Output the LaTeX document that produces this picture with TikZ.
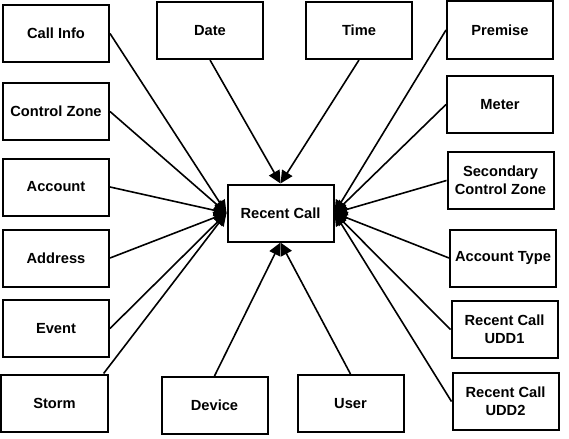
\documentclass[tikz,border=0pt]{standalone}
\usepackage{fontspec}
\setmainfont{Liberation Sans}
\usetikzlibrary{arrows.meta}

\tikzset{every picture/.style={line width=0.75pt}}
\tikzset{
  entity/.style={draw, line width=1.5pt, minimum width=79.5pt, minimum height=42.75pt,
    inner sep=1pt, align=center, font=\fontsize{11}{13.5}\selectfont\bfseries},
  link/.style={line width=1.2pt, -{Triangle[length=9.5pt,width=9pt]}}
}

\begin{document}
\begin{tikzpicture}[x=0.75pt,y=0.75pt,yscale=-1,xscale=1]
	\useasboundingbox (0,0) rectangle (569,439);

	%Shape: Rectangle [centre]
	\node[entity] (recentcall) at (280.5,213) {Recent Call};

	%Shape: Rectangle [left column]
	\node[entity] (callinfo) at (56,33.5) {Call Info};
	\node[entity] (controlzone) at (56,111.5) {Control Zone};
	\node[entity] (account) at (56,187) {Account};
	\node[entity] (address) at (56,258) {Address};
	\node[entity] (event) at (56,328.5) {Event};
	\node[entity] (storm) at (54.5,403) {Storm};

	%Shape: Rectangle [top and bottom]
	\node[entity] (date) at (210,30.5) {Date};
	\node[entity] (time) at (359,30.5) {Time};
	\node[entity] (device) at (214.5,405.5) {Device};
	\node[entity] (user) at (350.5,403.5) {User};

	%Shape: Rectangle [right column]
	\node[entity] (premise) at (500,30) {Premise};
	\node[entity] (meter) at (500,104.5) {Meter};
	\node[entity] (secondary) at (500.5,180.5) {Secondary\\Control Zone};
	\node[entity] (accounttype) at (503,258) {Account Type};
	\node[entity] (udd1) at (504.5,329.5) {Recent Call\\UDD1};
	\node[entity] (udd2) at (505.5,401.5) {Recent Call\\UDD2};

	%Straight Lines [left]
	\draw[link] (callinfo.east) -- (recentcall.west);
	\draw[link] (controlzone.east) -- (recentcall.west);
	\draw[link] (account.east) -- (recentcall.west);
	\draw[link] (address.east) -- (recentcall.west);
	\draw[link] (event.east) -- (recentcall.west);
	\draw[link] (storm.31) -- (recentcall.west);

	%Straight Lines [top and bottom]
	\draw[link] (date.south) -- (recentcall.north);
	\draw[link] (time.south) -- (recentcall.north);
	\draw[link] (device.north) -- (recentcall.south);
	\draw[link] (user.north) -- (recentcall.south);

	%Straight Lines [right]
	\draw[link] (premise.west) -- (recentcall.east);
	\draw[link] (meter.west) -- (recentcall.east);
	\draw[link] (secondary.west) -- (recentcall.east);
	\draw[link] (accounttype.west) -- (recentcall.east);
	\draw[link] (udd1.west) -- (recentcall.east);
	\draw[link] (udd2.west) -- (recentcall.east);

\end{tikzpicture}
\end{document}
